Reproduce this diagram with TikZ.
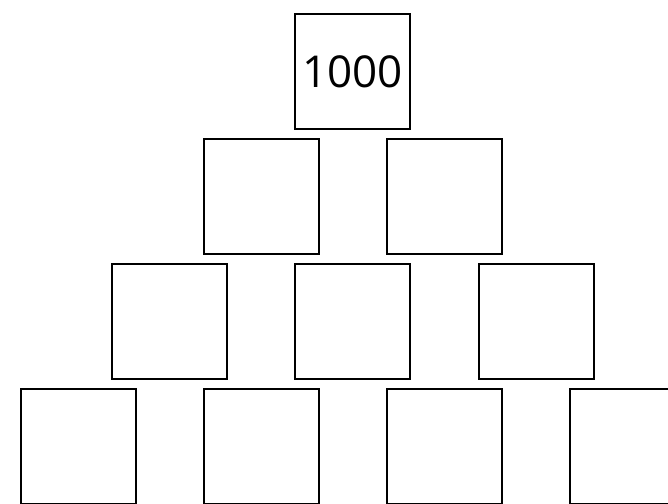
\documentclass[tikz,border=0pt]{standalone}
\usepackage{fontspec}
\setmainfont{Open Sans}
\begin{document}
\begin{tikzpicture}[brick/.style={draw, rectangle, line width=1.2pt, minimum size=2.3cm, inner sep=0pt, font=\fontsize{25}{29}\selectfont}]
    \useasboundingbox (0,0) rectangle (13.36,-10.06);
    \clip (0,0) rectangle (13.36,-10.06);
    % top row
    \node (top) [brick] at (7.05,-1.43) {\raisebox{-0.06cm}{1000}};
    % second row
    \node (midL) [brick] at (5.23,-3.93) {};
    \node (midR) [brick] at (8.89,-3.93) {};
    % third row
    \node (lowL) [brick] at (3.39,-6.43) {};
    \node (lowM) [brick] at (7.05,-6.43) {};
    \node (lowR) [brick] at (10.73,-6.43) {};
    % bottom row
    \node (baseA) [brick] at (1.57,-8.93) {};
    \node (baseB) [brick] at (5.23,-8.93) {};
    \node (baseC) [brick] at (8.89,-8.93) {};
    \node (baseD) [brick] at (12.55,-8.93) {};
\end{tikzpicture}
\end{document}
